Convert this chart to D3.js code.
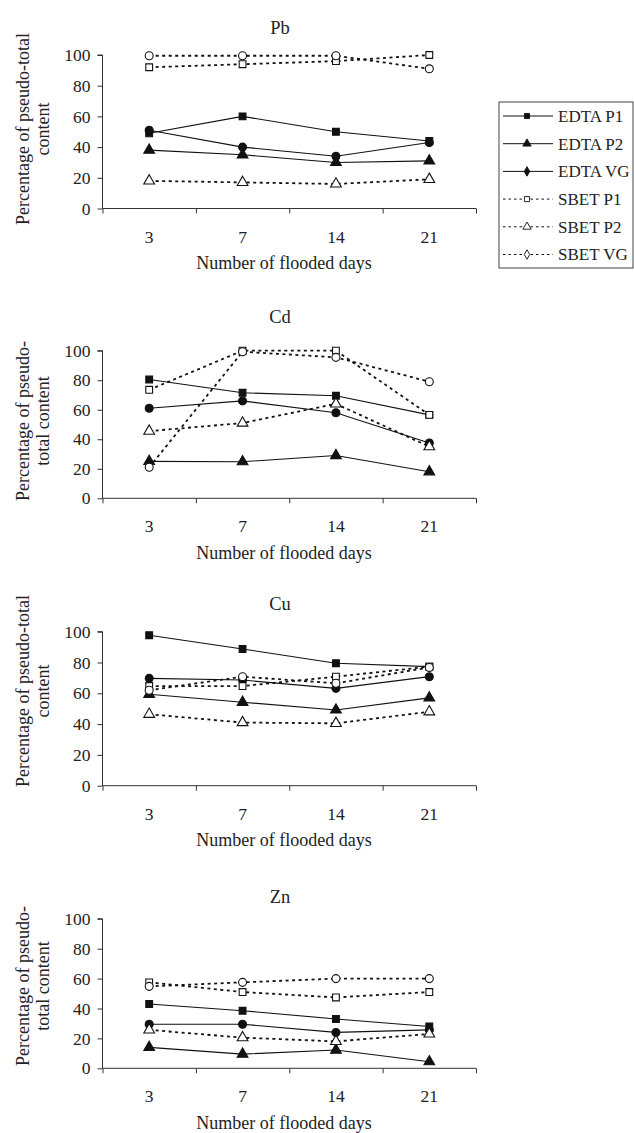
<!DOCTYPE html>
<html>
<head>
<meta charset="utf-8">
<script src="https://cdn.jsdelivr.net/npm/d3@7"></script>
<style>
  body { margin: 0; background: #fff; }
  svg text { font-family: "Liberation Serif", "Times New Roman", serif; fill: #222; }
</style>
</head>
<body>
<div id="chart"></div>
<script>
// Data (percent of pseudo-total content)
const days = ["3", "7", "14", "21"];
const seriesNames = ["EDTA P1", "EDTA P2", "EDTA VG", "SBET P1", "SBET P2", "SBET VG"];
const metals = ["Pb", "Cd", "Cu", "Zn"];
const yTicks = [0, 20, 40, 60, 80, 100];

// one row per series, same order as seriesNames
const pbValues = [
    [49, 60, 50, 44],
    [38, 35, 30, 31],
    [51, 40, 34, 43],
    [92, 94, 96, 100],
    [18, 17, 16, 19],
    [99.5, 99.5, 99.5, 91]
];
const cdValues = [
    [80.5, 71.5, 69.5, 56.5],
    [25, 24.8, 29, 18],
    [61, 66, 58, 37.5],
    [73.5, 100, 100, 56.5],
    [45.5, 51, 64, 35],
    [21, 99.3, 95.5, 79]
];
const cuValues = [
    [97.7, 88.8, 79.5, 77.3],
    [59.4, 54.2, 49.2, 57],
    [69.7, 68.6, 63.2, 70.8],
    [64.7, 64.7, 70.8, 77.3],
    [46.4, 41, 40.5, 48],
    [62, 70.8, 66.5, 76.8]
];
const znValues = [
    [43, 38.5, 33, 28],
    [14, 9.5, 12.2, 4.4],
    [29.5, 29.5, 24, 25.7],
    [57.5, 51, 47.4, 51],
    [25.7, 20.5, 18, 23],
    [54.8, 57.5, 60, 60]
];
const allValues = [pbValues, cdValues, cuValues, znValues];

const yLabelLines = [
    ["Percentage of pseudo-total", "content"],
    ["Percentage of pseudo-", "total content"],
    ["Percentage of pseudo-total", "content"],
    ["Percentage of pseudo-", "total content"]
];
const xTitle = "Number of flooded days";

// layout of the four stacked panels (pixel positions)
const panels = [
    { top: 55, bottom: 208.5, titleY: 28, labelY: 129 },
    { top: 350.7, bottom: 498.3, titleY: 317, labelY: 421 },
    { top: 631.7, bottom: 785.7, titleY: 604, labelY: 691 },
    { top: 918.8, bottom: 1068.3, titleY: 897, labelY: 986 }
];
const width = 634, height = 1133;
const xLeft = 102.5, xRight = 476;

const markerStyle = [
    { type: d3.symbolSquare, size: 46, fill: "#111", dash: null },
    { type: d3.symbolTriangle, size: 50, fill: "#111", dash: null },
    { type: d3.symbolCircle, size: 50, fill: "#111", dash: null },
    { type: d3.symbolSquare, size: 46, fill: "#fff", dash: "3,3.5" },
    { type: d3.symbolTriangle, size: 50, fill: "#fff", dash: "3,3.5" },
    { type: d3.symbolCircle, size: 50, fill: "#fff", dash: "3,3.5" }
];

const svg = d3.select("#chart").append("svg")
    .attr("width", width)
    .attr("height", height);
svg.append("rect").attr("width", width).attr("height", height).attr("fill", "#fff");

const x = d3.scaleBand().domain(days).range([xLeft, xRight]).padding(0);
const xBound = d3.scaleLinear().domain([0, days.length]).range([xLeft, xRight]);
const cx = d => x(d) + x.bandwidth() / 2;

panels.forEach((p, pi) => {
    const g = svg.append("g");
    const y = d3.scaleLinear().domain([0, 100]).range([p.bottom, p.top]);

    // y axis
    const yAxis = g.append("g")
        .attr("transform", `translate(${xLeft},0)`)
        .call(d3.axisLeft(y).tickValues(yTicks).tickSize(5).tickPadding(7));
    yAxis.select(".domain").attr("stroke", "#333").attr("d", `M-5,${p.top}H0V${p.bottom}`);
    yAxis.selectAll(".tick line").attr("stroke", "#333");
    yAxis.selectAll(".tick text").attr("font-size", 17.5).attr("fill", "#222")
        .style("font-family", "'Liberation Serif', serif");

    // x axis: ticks at category boundaries, labels at centres
    const xAxis = g.append("g")
        .attr("transform", `translate(0,${p.bottom})`)
        .call(d3.axisBottom(xBound).tickValues(d3.range(days.length + 1)).tickSize(5).tickFormat(""));
    xAxis.select(".domain").attr("stroke", "#333").attr("d", `M${xLeft},0H${xRight}`);
    xAxis.selectAll(".tick line").attr("stroke", "#333");

    g.selectAll(".xlab")
        .data(days)
        .join("text")
        .attr("class", "xlab")
        .attr("x", d => cx(d))
        .attr("y", p.bottom + 28)
        .attr("dy", "0.35em")
        .attr("text-anchor", "middle")
        .attr("font-size", 17.5)
        .text(d => d);

    g.append("text")
        .attr("x", 284)
        .attr("y", p.bottom + 54)
        .attr("dy", "0.35em")
        .attr("text-anchor", "middle")
        .attr("font-size", 18)
        .text(xTitle);

    // panel title
    g.append("text")
        .attr("x", 280)
        .attr("y", p.titleY)
        .attr("dy", "0.35em")
        .attr("text-anchor", "middle")
        .attr("font-size", 18.5)
        .text(metals[pi]);

    // y axis label, two rotated lines
    yLabelLines[pi].forEach((line, li) => {
        g.append("text")
            .attr("transform", `translate(${23 + li * 20},${p.labelY}) rotate(-90)`)
            .attr("dy", "0.35em")
            .attr("text-anchor", "middle")
            .attr("font-size", 18)
            .text(line);
    });

    // series lines first, then markers on top
    const line = d3.line().x((v, i) => cx(days[i])).y(v => y(v));
    const rows = allValues[pi];
    g.selectAll(".series")
        .data(rows)
        .join("path")
        .attr("class", "series")
        .attr("d", line)
        .attr("fill", "none")
        .attr("stroke", "#111")
        .attr("stroke-width", (d, i) => markerStyle[i].dash ? 1.8 : 1.1)
        .attr("stroke-dasharray", (d, i) => markerStyle[i].dash);

    rows.forEach((vals, si) => {
        const ms = markerStyle[si];
        g.selectAll(".m" + si)
            .data(vals)
            .join("path")
            .attr("class", "m" + si)
            .attr("transform", (v, i) => `translate(${cx(days[i])},${y(v)})`)
            .attr("d", d3.symbol().type(ms.type).size(ms.size))
            .attr("fill", ms.fill)
            .attr("stroke", "#111")
            .attr("stroke-width", 1.1);
    });
});

// legend
const legend = svg.append("g");
const lgTop = 102, lgBottom = 268, lgLeft = 499, lgRight = 633;
legend.append("rect")
    .attr("x", lgLeft).attr("y", lgTop)
    .attr("width", lgRight - lgLeft).attr("height", lgBottom - lgTop)
    .attr("fill", "#fff").attr("stroke", "#444").attr("stroke-width", 1);

const legendShapes = [d3.symbolSquare, d3.symbolTriangle, d3.symbolDiamond,
                      d3.symbolSquare, d3.symbolTriangle, d3.symbolDiamond];
seriesNames.forEach((name, i) => {
    const ly = 116 + i * 27.7;
    const ms = markerStyle[i];
    legend.append("line")
        .attr("x1", lgLeft + 4).attr("x2", 553)
        .attr("y1", ly).attr("y2", ly)
        .attr("stroke", "#111")
        .attr("stroke-width", 1)
        .attr("stroke-dasharray", ms.dash ? "2.5,3" : null);
    legend.append("path")
        .attr("transform", `translate(527,${ly})`)
        .attr("d", d3.symbol().type(legendShapes[i]).size(i % 3 === 1 ? 30 : 26))
        .attr("fill", ms.fill)
        .attr("stroke", "#111")
        .attr("stroke-width", 0.9);
    legend.append("text")
        .attr("x", 558)
        .attr("y", ly)
        .attr("dy", "0.35em")
        .attr("font-size", 17)
        .text(name);
});
</script>
</body>
</html>
